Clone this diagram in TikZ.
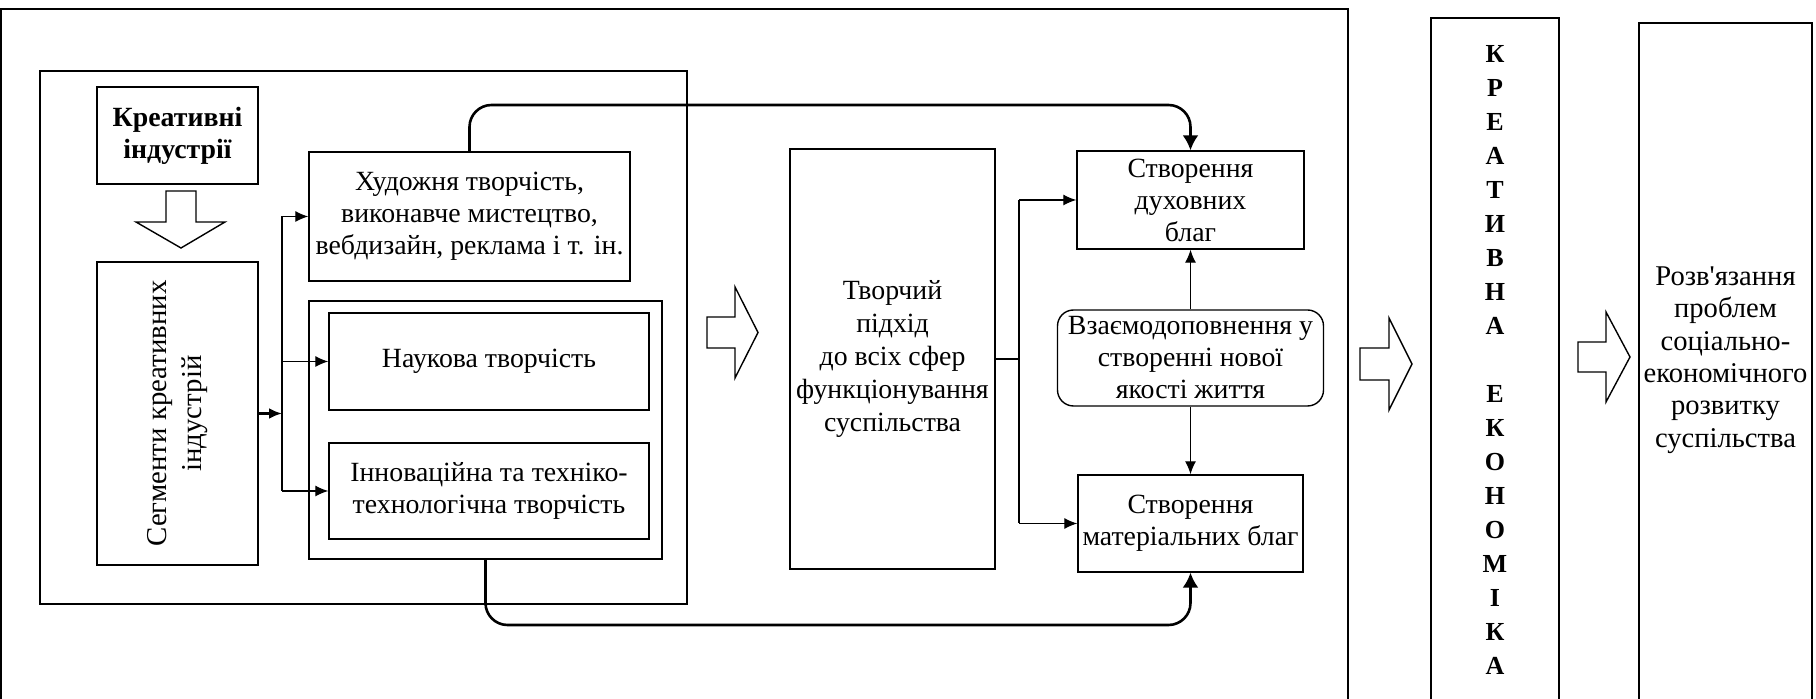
\documentclass[tikz,border=0pt]{standalone}
\usepackage{fontspec}
\setmainfont{Liberation Serif}[Ligatures=TeXOff]
\usetikzlibrary{arrows.meta}
\newcommand{\bodysize}{\fontsize{13.9}{16}\selectfont}
\tikzset{arrow/.style={->, >={Latex[length=6.5pt,width=5.5pt]}}}
\tikzset{curve-arrow/.style={->, >={Latex[length=7.5pt,width=8pt]}, line width=1.3pt, rounded corners=11pt}}
\tikzset{box/.style={draw, line width=0.7pt, align=center, inner sep=0pt, font=\bodysize}}
\tikzset{hollow/.style={draw, line width=0.7pt}}

\begin{document}
\begin{tikzpicture}[x=0.5pt, y=-0.5pt]
      \useasboundingbox (0,0) rectangle (1816,699);

      % open frames running off the bottom
      \draw[line width=0.7pt] (1,699) -- (1,9) -- (1348,9) -- (1348,699);
      \draw[line width=0.7pt] (1431,699) -- (1431,18) -- (1559,18) -- (1559,699);
      \draw[line width=0.7pt] (1639,699) -- (1639,23) -- (1812,23) -- (1812,699);

      \node[box, minimum width=323.5pt, minimum height=266.5pt] (inner) at (363.5,337.5) {};
      \node[box, line width=1.3pt, font=\bodysize\bfseries, minimum width=80.5pt, minimum height=48.5pt] (ki) at (177.5,135.5) {Креативні\\індустрії};
      \node[box, minimum width=80.5pt, minimum height=151.5pt] (seg) at (177.5,413.5) {};
      \node[rotate=90, align=center, font=\fontsize{14.4}{17.5}\selectfont] (segtext) at (seg.center) {Сегменти креативних\\індустрій};

      \node[box, minimum width=160.5pt, minimum height=64.5pt] (hud) at (469.5,216.5) {Художня творчість,\\виконавче мистецтво,\\вебдизайн, реклама і т. ін.};
      \node[box, minimum width=176.5pt, minimum height=129pt] (grp) at (485.5,430) {};
      \node[box, minimum width=160pt, minimum height=48.5pt] (nau) at (489,361.5) {Наукова творчість};
      \node[box, minimum width=160pt, minimum height=48pt] (inn) at (489,491) {Інноваційна та техніко-\\технологічна творчість};

      \node[box, font=\fontsize{13.9}{16.5}\selectfont, minimum width=102.5pt, minimum height=210pt] (tv) at (892.5,359) {Творчий\\підхід\\до всіх сфер\\функціонування\\суспільства};
      \node[box, minimum width=113.5pt, minimum height=49pt] (duh) at (1190.5,200) {Створення\\духовних\\благ};
      \node[box, rounded corners=8pt, minimum width=133pt, minimum height=48pt] (vz) at (1190.5,358) {Взаємодоповнення у\\створенні нової\\якості життя};
      \node[box, minimum width=112.5pt, minimum height=48.5pt] (mat) at (1190.5,523.5) {Створення\\матеріальних благ};

      \node[align=center, font=\fontsize{13}{17}\selectfont\bfseries] (ke) at (1495,359.5) {К\\Р\\Е\\А\\Т\\И\\В\\Н\\А\\[17pt]Е\\К\\О\\Н\\О\\М\\І\\К\\А};
      \node[align=center, font=\fontsize{14.3}{16.2}\selectfont] (rozv) at (1725.5,360) {Розв'язання\\проблем\\соціально-\\економічного\\розвитку\\суспільства};

      % hollow block arrows
      \draw[hollow] (166,191) -- (196,191) -- (196,222) -- (225,222) -- (181,248) -- (136,222) -- (166,222) -- cycle;
      \draw[hollow] (707,317) -- (735,317) -- (735,287) -- (758,332.5) -- (735,378) -- (735,348) -- (707,348) -- cycle;
      \draw[hollow] (1360,348) -- (1389,348) -- (1389,318) -- (1412,364) -- (1389,410) -- (1389,380) -- (1360,380) -- cycle;
      \draw[hollow] (1578,342) -- (1606,342) -- (1606,312) -- (1630,357) -- (1606,402) -- (1606,372) -- (1578,372) -- cycle;

      \coordinate (tl) at (282,413.5);
      \coordinate (tr) at (1019,359);
      \coordinate (toprow) at (0,105);
      \coordinate (botrow) at (0,625);

      \draw[arrow, line width=1.2pt] (seg.east) -- (tl);
      \draw[line width=0.6pt] (tl |- hud.west) -- (tl |- inn.west);
      \draw[arrow, line width=0.6pt] (tl |- hud.west) -- (hud.west);
      \draw[arrow, line width=0.6pt] (tl |- nau.west) -- (nau.west);
      \draw[arrow, line width=0.6pt] (tl |- inn.west) -- (inn.west);

      \draw[line width=1.2pt] (tv.east) -- (tr);
      \draw[line width=0.6pt] (tr |- duh.west) -- (tr |- mat.west);
      \draw[arrow, line width=0.6pt] (tr |- duh.west) -- (duh.west);
      \draw[arrow, line width=0.6pt] (tr |- mat.west) -- (mat.west);
      \draw[arrow, line width=0.6pt] (vz.north) -- (duh.south);
      \draw[arrow, line width=0.6pt] (vz.south) -- (mat.north);

      \draw[curve-arrow] (hud.north) -- (hud.north |- toprow) -- (duh.north |- toprow) -- (duh.north);
      \draw[curve-arrow] (grp.south) -- (grp.south |- botrow) -- (mat.south |- botrow) -- (mat.south);
\end{tikzpicture}
\end{document}
